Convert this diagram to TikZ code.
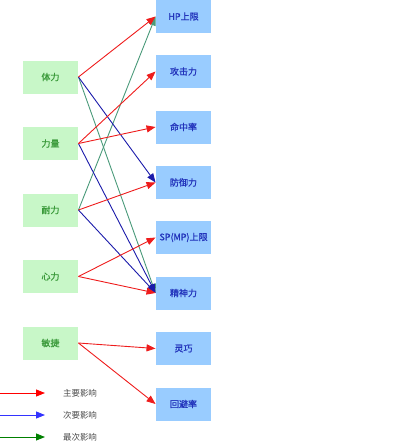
\documentclass[tikz,border=0pt]{standalone}
\usepackage{fontspec}
\newfontfamily\cjk{Noto Sans CJK SC}
\newfontfamily\cjkbox{Noto Sans CJK SC}[FakeBold=0.8]
\usetikzlibrary{arrows.meta}
\definecolor{attrfill}{HTML}{C8F7C8}
\definecolor{attrtext}{HTML}{3A9A3A}
\definecolor{statfill}{HTML}{99CCFF}
\definecolor{stattext}{HTML}{2233BB}
\definecolor{mainred}{HTML}{EE1C1C}
\definecolor{subblue}{HTML}{1A1AAA}
\definecolor{leastgreen}{HTML}{4A9A7A}

\begin{document}
\begin{tikzpicture}[x=1pt, y=-1pt, line width=0.9pt,
  attr/.style={fill=attrfill, text=attrtext, minimum width=55pt, minimum height=33pt,
    inner sep=0pt, font=\cjkbox\fontsize{9}{10}\selectfont},
  stat/.style={fill=statfill, text=stattext, minimum width=55pt, minimum height=33pt,
    inner sep=0pt, font=\cjkbox\fontsize{9}{10}\selectfont},
  tip/.style={-{Triangle[length=9pt, width=7pt]}},
  main/.style={tip, mainred},
  sub/.style={tip, subblue},
  least/.style={tip, leastgreen},
  legendtext/.style={text=black!70, font=\cjk\fontsize{8.5}{9}\selectfont}]
  \useasboundingbox (0,0) rectangle (400,442);
  % 属性
  \node[attr] (tili) at (50.5,77) {体力};
  \node[attr] (liliang) at (50.5,143.5) {力量};
  \node[attr] (naili) at (50.5,210) {耐力};
  \node[attr] (xinli) at (50.5,276.5) {心力};
  \node[attr] (minjie) at (50.5,343) {敏捷};
  % 能力值
  \node[stat] (hp) at (183.5,16.5) {HP上限};
  \node[stat] (gongji) at (183.5,71.5) {攻击力};
  \node[stat] (mingzhong) at (183.5,127) {命中率};
  \node[stat] (fangyu) at (183.5,182.5) {防御力};
  \node[stat] (sp) at (183.5,237.5) {SP(MP)上限};
  \node[stat] (jingshen) at (183.5,293) {精神力};
  \node[stat] (lingqiao) at (183.5,348.5) {灵巧};
  \node[stat] (huibi) at (183.5,404) {回避率};
  % 影响
  \draw[least] (tili.east) -- (jingshen.west);
  \draw[least] (naili.east) -- (hp.west);
  \draw[sub] (tili.east) -- (fangyu.west);
  \draw[sub] (liliang.east) -- (jingshen.west);
  \draw[sub] (naili.east) -- (jingshen.west);
  \draw[main] (tili.east) -- (hp.west);
  \draw[main] (liliang.east) -- (gongji.west);
  \draw[main] (liliang.east) -- (mingzhong.west);
  \draw[main] (naili.east) -- (fangyu.west);
  \draw[main] (xinli.east) -- (sp.west);
  \draw[main] (xinli.east) -- (jingshen.west);
  \draw[main] (minjie.east) -- (lingqiao.west);
  \draw[main] (minjie.east) -- (huibi.west);
  % 图例
  \coordinate (mainS) at (0,393);
  \coordinate (mainE) at (45,393);
  \coordinate (subS) at (0,415);
  \coordinate (subE) at (45,415);
  \coordinate (leastS) at (0,437);
  \coordinate (leastE) at (45,437);
  \draw[tip, red] (mainS) -- (mainE);
  \draw[tip, blue!80] (subS) -- (subE);
  \draw[tip, green!50!black] (leastS) -- (leastE);
  \node[legendtext] (mainL) at (80,393) {主要影响};
  \node[legendtext] (subL) at (80,415) {次要影响};
  \node[legendtext] (leastL) at (80,437) {最次影响};
\end{tikzpicture}
\end{document}
